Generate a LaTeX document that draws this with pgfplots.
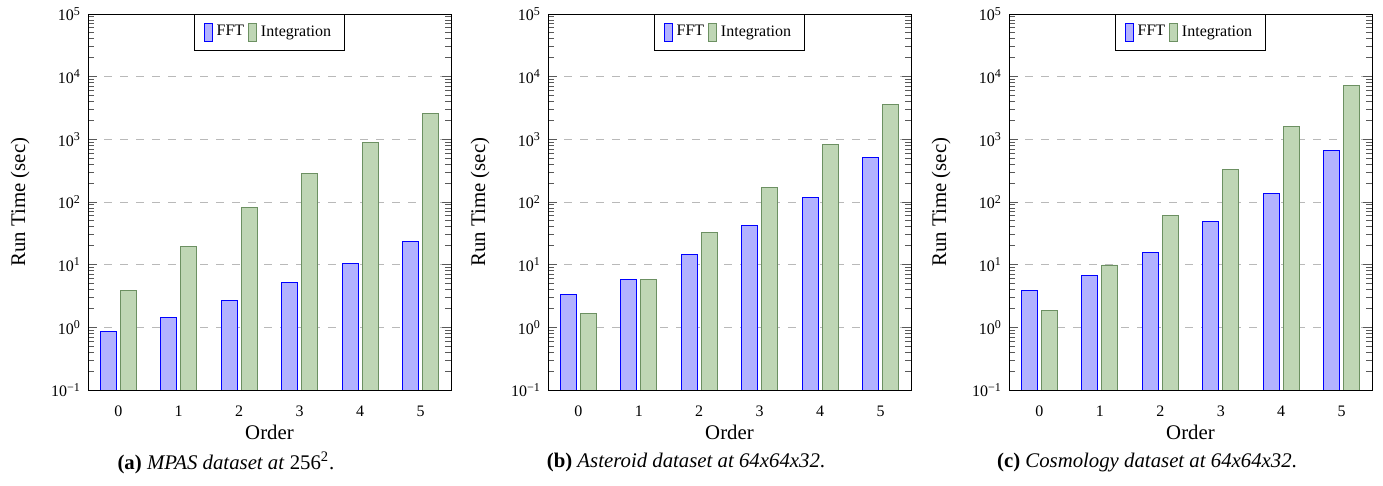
\documentclass[border=0pt]{standalone}
\usepackage{fontspec}
\setmainfont{Liberation Serif}
\usepackage{pgfplots}
\pgfplotsset{compat=1.18}

\definecolor{intfill}{RGB}{191,214,181}
\definecolor{intdraw}{RGB}{108,144,98}

\pgfplotsset{
  every axis/.append style={
    scale only axis,
    width=181.5pt, height=188pt,
    ymin=0.1, ymax=1e5,
    log basis y=10,
    yticklabel={\pgfmathtruncatemacro{\e}{round(\tick)}%
      \ifnum\e<0 10\textsuperscript{−\the\numexpr-\e\relax}\else 10\textsuperscript{\e}\fi},
    xmin=-0.5, xmax=5.5,
    xtick={0,...,5},
    tick style={gray!70!black, line width=0.45pt},
    every major x tick/.append style={draw=none},
    /pgf/number format/assume math mode=true,
    ymajorgrids,
    major grid style={gray!55, dash pattern=on 4pt off 4pt},
    tick label style={font=\fontsize{8}{9.6}\selectfont},
    label style={font=\fontsize{10.4}{12.5}\selectfont},
    xlabel={Order},
    ylabel={Run Time (sec)},
    legend columns=2,
    legend style={at={(0.5,1)}, anchor=north, font=\fontsize{8}{9.6}\selectfont,
      inner xsep=4.5pt, inner ysep=3.5pt, draw=black},
  },
  every axis x label/.style={at={(axis description cs:0.5,-0.114)}, anchor=center},
  every axis y label/.style={at={(axis description cs:-0.187,0.5)}, rotate=90, anchor=center},
  barleg/.style={legend image code/.code={\draw[##1] (0pt,-4.5pt) rectangle (4pt,4.5pt);}},
  fftbar/.style={draw=blue, fill=blue!30, barleg},
  intbar/.style={draw=intdraw, fill=intfill, barleg},
}

\begin{document}
\begin{tikzpicture}
\useasboundingbox (-44pt,-48pt) rectangle (647.5pt,195pt);

% (a) MPAS
\begin{semilogyaxis}[ybar=2pt, bar width=8pt, log origin y=infty, name=a, at={(0pt,0pt)}, anchor=south west]
\addplot[fftbar] coordinates {(0,0.85) (1,1.46) (2,2.7) (3,5.2) (4,10.6) (5,23.6)};
\addplot[intbar] coordinates {(0,3.9) (1,19.6) (2,82) (3,283) (4,896) (5,2600)};
\legend{FFT, Integration}
\end{semilogyaxis}
\path (a.south west) ++(69pt,-36.5pt) node[font=\fontsize{10.4}{12.5}\selectfont]
  {\textbf{(a)} \textit{MPAS dataset at} 256\textsuperscript{2}.};

% (b) Asteroid
\begin{semilogyaxis}[ybar=2pt, bar width=8pt, log origin y=infty, name=b, at={(230pt,0pt)}, anchor=south west]
\addplot[fftbar] coordinates {(0,3.32) (1,5.75) (2,14.4) (3,41.9) (4,117) (5,516)};
\addplot[intbar] coordinates {(0,1.65) (1,5.75) (2,33.2) (3,171) (4,842) (5,3660)};
\legend{FFT, Integration}
\end{semilogyaxis}
\path (b.south west) ++(69pt,-36.5pt) node[font=\fontsize{10.4}{12.5}\selectfont]
  {\textbf{(b)} \textit{Asteroid dataset at 64x64x32}.};

% (c) Cosmology
\begin{semilogyaxis}[ybar=2pt, bar width=8pt, log origin y=infty, name=c, at={(460.5pt,0pt)}, anchor=south west]
\addplot[fftbar] coordinates {(0,3.85) (1,6.84) (2,15.5) (3,48.5) (4,137) (5,667)};
\addplot[intbar] coordinates {(0,1.87) (1,9.88) (2,62) (3,328) (4,1592) (5,7180)};
\legend{FFT, Integration}
\end{semilogyaxis}
\path (c.south west) ++(69pt,-36.5pt) node[font=\fontsize{10.4}{12.5}\selectfont]
  {\textbf{(c)} \textit{Cosmology dataset at 64x64x32}.};
\end{tikzpicture}
\end{document}
